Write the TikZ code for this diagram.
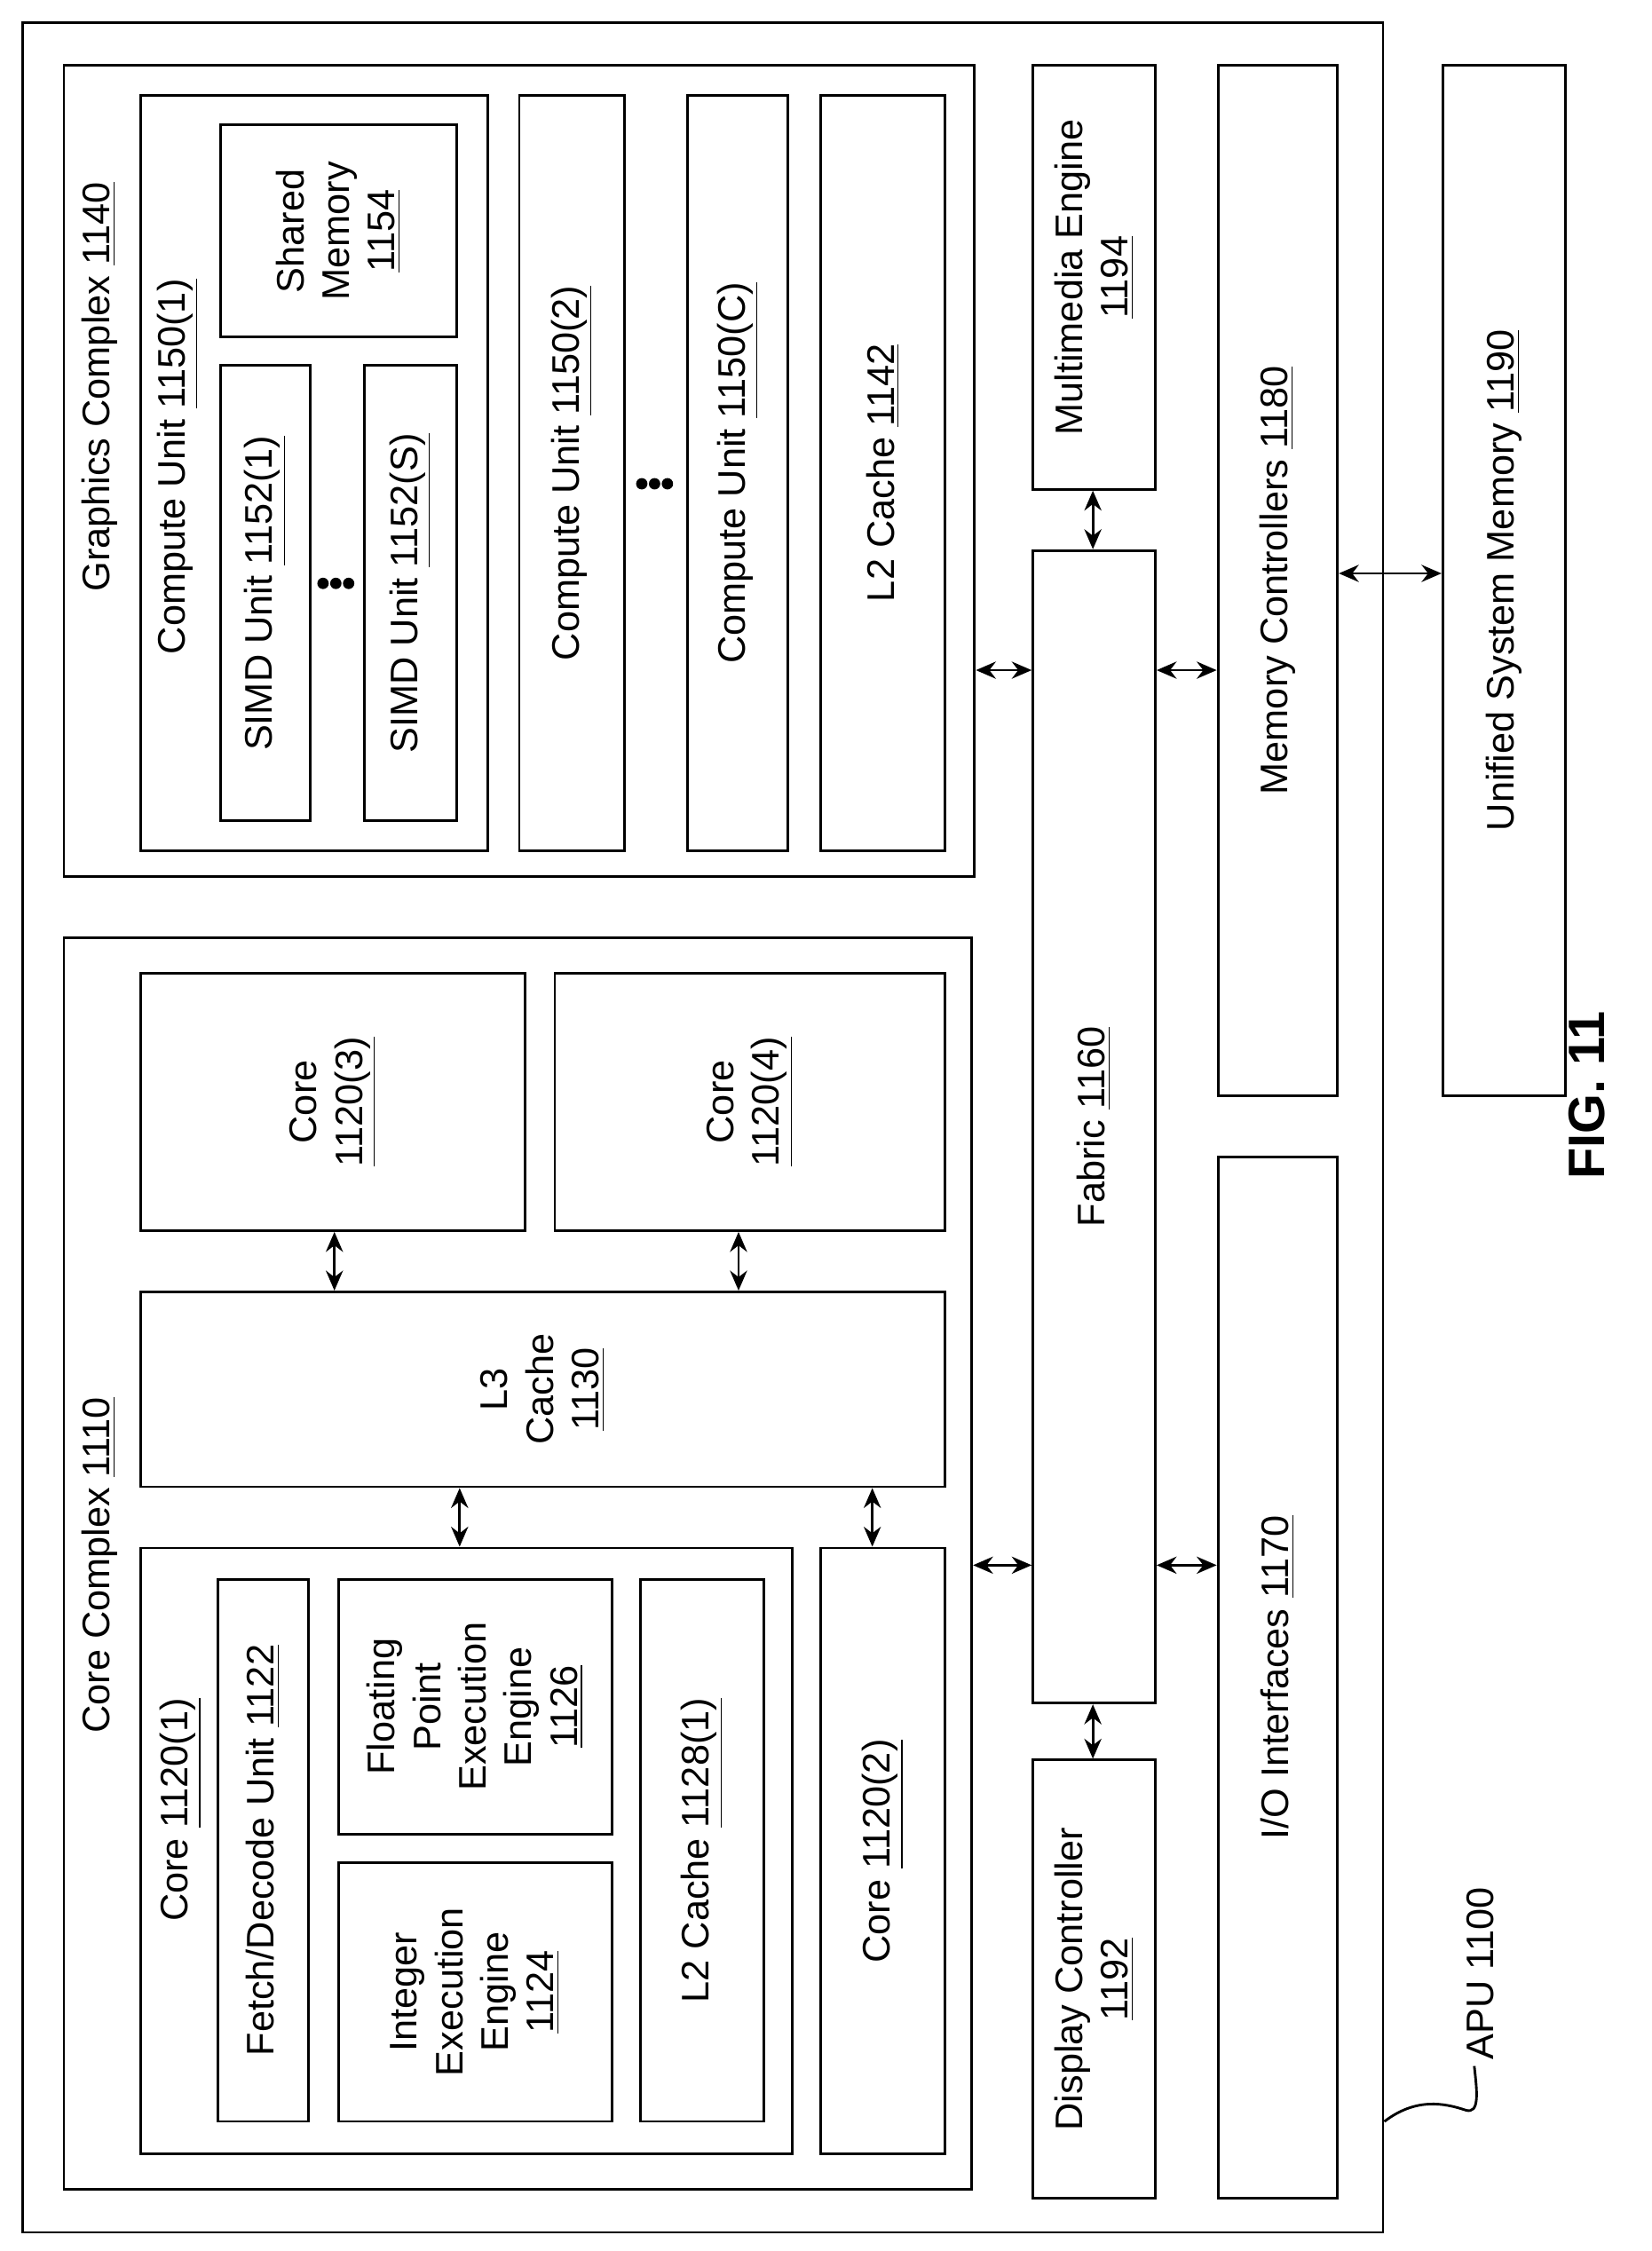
\documentclass[tikz,border=0pt]{standalone}
\usepackage{fontspec}
\setmainfont{Liberation Sans}
\usetikzlibrary{arrows.meta}
\begin{document}
\begin{tikzpicture}[x=0.5pt,y=-0.5pt,
  box/.style={draw,line width=0.9pt,inner sep=0pt},
  lbl/.style={rotate=90,align=center,font=\fontsize{13.5}{16}\selectfont,inner sep=0pt},
  arr/.style={line width=0.9pt,{Stealth[length=7pt,width=6pt]}-{Stealth[length=7pt,width=6pt]}},
  dot/.style={circle,fill,inner sep=0pt,minimum size=4pt}]
\useasboundingbox (0,0) rectangle (1160.3,1582);
\newcommand\bx[5]{\node[box,anchor=north west,minimum width={(#4-#2)*0.5pt},minimum height={(#5-#3)*0.5pt}] (#1) at (#2,#3) {};}
% outer
\bx{apu}{15}{15}{971}{1568}
\bx{cc}{44}{658}{682}{1538}
\bx{gc}{44}{45}{684}{615}
% core complex
\bx{core1}{98}{1087}{556}{1513}
\bx{fetch}{152}{1109}{216}{1490}
\bx{int}{237}{1308}{429}{1490}
\bx{fp}{237}{1109}{429}{1288}
\bx{l2c}{449}{1109}{536}{1490}
\bx{core2}{576}{1087}{663}{1513}
\bx{l3}{98}{907}{663}{1044}
\bx{core3}{98}{683}{368}{864}
\bx{core4}{389}{683}{663}{864}
% graphics complex
\bx{cu1}{98}{66}{342}{597}
\bx{simd1}{154}{256}{217}{576}
\bx{simds}{255}{256}{320}{576}
\bx{shm}{154}{87}{320}{236}
\bx{cu2}{364}{66}{438}{597}
\bx{cuc}{482}{66}{553}{597}
\bx{l2g}{576}{66}{663}{597}
% right column
\bx{mm}{725}{45}{811}{343}
\bx{fab}{725}{386}{811}{1196}
\bx{disp}{725}{1236}{811}{1544}
\bx{mc}{855}{45}{939}{769}
\bx{io}{855}{812}{939}{1544}
\bx{usm}{1013}{45}{1099}{769}
% labels
\node[lbl] at (70,1100) {Core Complex \underline{1110}};
\node[lbl] at (127,1272) {Core \underline{1120(1)}};
\node[lbl] at (fetch.center) {Fetch/Decode Unit \underline{1122}};
\node[lbl] at (int.center) {Integer\\Execution\\Engine\\\underline{1124}};
\node[lbl] at (fp.center) {Floating\\Point\\Execution\\Engine\\\underline{1126}};
\node[lbl] at (l2c.center) {L2 Cache \underline{1128(1)}};
\node[lbl] at (core2.center) {Core \underline{1120(2)}};
\node[lbl] at (l3.center) {L3\\Cache\\\underline{1130}};
\node[lbl] at (core3.center) {Core\\\underline{1120(3)}};
\node[lbl] at (core4.center) {Core\\\underline{1120(4)}};
\node[lbl] at (70,272) {Graphics Complex \underline{1140}};
\node[lbl] at (125,328) {Compute Unit \underline{1150(1)}};
\node[lbl] at (simd1.center) {SIMD Unit \underline{1152(1)}};
\node[lbl] at (simds.center) {SIMD Unit \underline{1152(S)}};
\node[lbl] at (shm.center) {Shared\\Memory\\\underline{1154}};
\node[lbl] at (cu2.center) {Compute Unit \underline{1150(2)}};
\node[lbl] at (cuc.center) {Compute Unit \underline{1150(C)}};
\node[lbl] at (l2g.center) {L2 Cache \underline{1142}};
\node[lbl] at (mm.center) {Multimedia Engine\\\underline{1194}};
\node[lbl] at (fab.center) {Fabric \underline{1160}};
\node[lbl] at (disp.center) {Display Controller\\\underline{1192}};
\node[lbl] at (mc.center) {Memory Controllers \underline{1180}};
\node[lbl] at (io.center) {I/O Interfaces \underline{1170}};
\node[lbl] at (usm.center) {Unified System Memory \underline{1190}};
\node[lbl,font=\bfseries\fontsize{18}{20}\selectfont] (fig) at (1115,770) {FIG. 11};
% dots
\foreach \dx in {-9,0,9} {\node[dot] at (236+\dx,410) {}; \node[dot] at (460+\dx,340) {};}
% arrows
\draw[arr] (235,0 |- core3.south) -- (235,0 |- l3.north);
\draw[arr] (519,0 |- core4.south) -- (519,0 |- l3.north);
\draw[arr] (323,0 |- l3.south) -- (323,0 |- core1.north);
\draw[arr] (613,0 |- l3.south) -- (613,0 |- core2.north);
\draw[arr] (gc.east |- 0,471) -- (fab.west |- 0,471);
\draw[arr] (cc.east |- 0,1100) -- (fab.west |- 0,1100);
\draw[arr] (fab.east |- 0,471) -- (mc.west |- 0,471);
\draw[arr] (fab.east |- 0,1100) -- (io.west |- 0,1100);
\draw[arr] (768,0 |- mm.south) -- (768,0 |- fab.north);
\draw[arr] (768,0 |- fab.south) -- (768,0 |- disp.north);
\draw[arr] (mc.east |- 0,403) -- (usm.west |- 0,403);
% APU label
\coordinate (lt) at (1036,1452);
\node[lbl,anchor=south] (apul) at (1046,1450) {};
\node[lbl,anchor=west] (apulabel) at (1040,1448) {APU 1100};
\draw[line width=0.9pt] (apu.east |- 0,1491) .. controls (995,1474) and (1015,1478) .. (1030,1483) .. controls (1040,1486) and (1038,1470) .. (lt);
\end{tikzpicture}
\end{document}
